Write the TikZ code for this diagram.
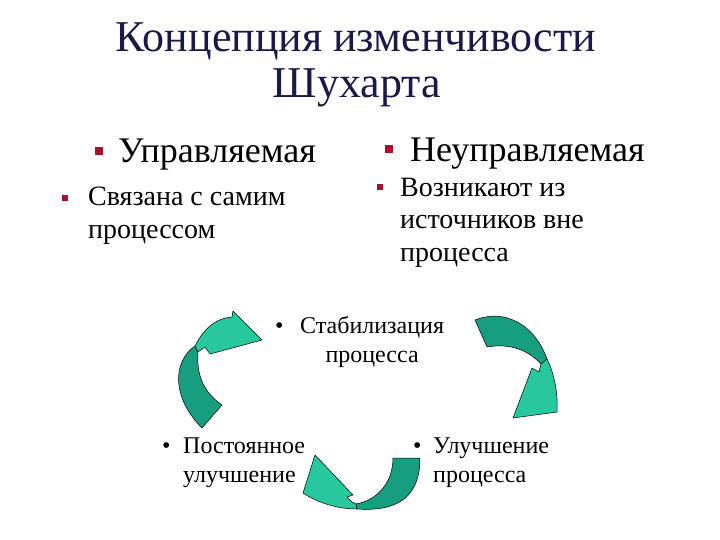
\documentclass[tikz,border=0pt]{standalone}
\usepackage{fontspec}
\setmainfont{Liberation Serif}
\usepackage{tikz}

\definecolor{titleblue}{RGB}{26,26,72}
\definecolor{bulletred}{RGB}{170,16,44}
\definecolor{tealfront}{RGB}{40,200,158}
\definecolor{tealback}{RGB}{22,158,126}

\tikzset{
  titletext/.style={anchor=base, inner sep=0pt, text=titleblue,
    font=\fontsize{44}{46}\selectfont},
  headtext/.style={anchor=base west, inner sep=0pt,
    font=\fontsize{36}{40}\selectfont},
  subtext/.style={anchor=base west, inner sep=0pt, align=left,
    font=\fontsize{28}{32.5}\selectfont},
  cyctext/.style={anchor=base west, inner sep=0pt, align=left,
    font=\fontsize{24}{29}\selectfont},
  sqbullet/.style={fill=bulletred, inner sep=0pt, minimum size=#1},
  frontpart/.style={fill=tealfront, draw=black, line width=0.5pt, line join=round},
  backpart/.style={fill=tealback, draw=black, line width=0.5pt, line join=round}
}

\begin{document}
\begin{tikzpicture}[x=1pt, y=-1pt]
\useasboundingbox (0,0) rectangle (720,540);

% title
\node[titletext] (title1) at (356,52) {Концепция изменчивости};
\node[titletext] (title2) at (357,98) {Шухарта};

% two kinds of variation (multi-line nodes sit on their last line)
\node[sqbullet=8pt] (ctrl-b) at (99,151) {};
\node[headtext] (ctrl) at (118,163) {Управляемая};
\node[sqbullet=8pt] (unctrl-b) at (389,149) {};
\node[headtext] (unctrl) at (410,162) {Неуправляемая};

\node[sqbullet=6pt] (ctrl-sb) at (65,198) {};
\node[subtext] (ctrl-sub) at (88,238) {Связана с самим\\процессом};
\node[sqbullet=6pt] (unctrl-sb) at (380,187) {};
\node[subtext] (unctrl-sub) at (400,261) {Возникают из\\источников вне\\процесса};

% cycle labels
\node[cyctext] (stab-b) at (275,333) {•};
\node[cyctext, align=center] (stab) at (300,362) {Стабилизация\\процесса};
\node[cyctext] (const-b) at (162,453) {•};
\node[cyctext] (const) at (183,482) {Постоянное\\улучшение};
\node[cyctext] (impr-b) at (413,453) {•};
\node[cyctext] (impr) at (433,482) {Улучшение\\процесса};

% left arrow: up to stabilisation
\draw[backpart] (202,428) .. controls (172,398) and (172,362) .. (195,346)
  -- (198,352) .. controls (196,378) and (206,394) .. (222,405) -- cycle;
\draw[frontpart] (195,346) .. controls (205,326) and (218,318) .. (232,317)
  -- (233,311) -- (262,340) -- (210,354) -- (205,347) -- (198,352) -- cycle;

% right arrow: down to improvement
\draw[backpart] (475,320) .. controls (505,308) and (535,325) .. (547,359)
  -- (541,364) .. controls (528,350) and (510,343) .. (487,347) -- cycle;
\draw[frontpart] (547,359) .. controls (555,375) and (558,395) .. (557,412)
  -- (513,418) -- (532,368) -- (539,372) -- (541,364) -- cycle;

% bottom arrow: round to constant improvement
\draw[backpart] (393,458) -- (420,458) .. controls (420,495) and (400,512) .. (357,509)
  -- (356,504) .. controls (378,500) and (393,482) .. (393,458) -- cycle;
\draw[frontpart] (357,509) .. controls (338,509) and (318,503) .. (303,493)
  -- (315,455) -- (353,495) -- (347,497) -- (352,502) -- (356,504) -- cycle;
\end{tikzpicture}
\end{document}
